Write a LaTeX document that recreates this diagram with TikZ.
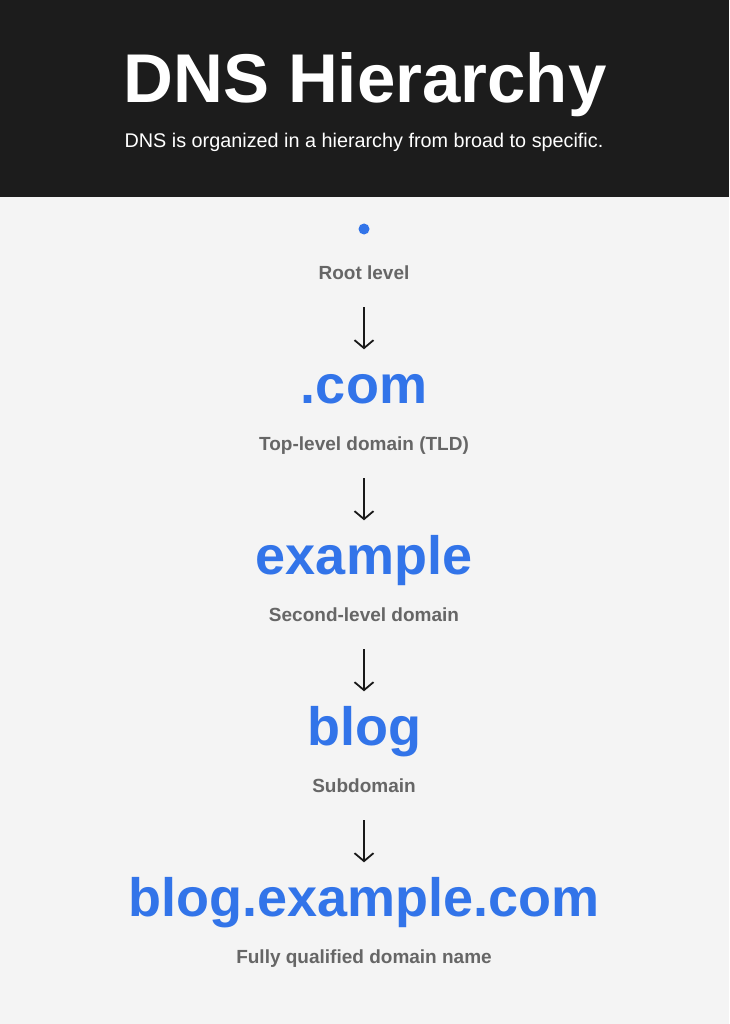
\documentclass[tikz,border=0pt]{standalone}
\usepackage{fontspec}
\setmainfont{Liberation Sans}
\usepackage{tikz}
\usetikzlibrary{arrows.meta}
\definecolor{dnsblue}{RGB}{50,116,233}
\definecolor{headbg}{RGB}{28,28,28}
\definecolor{pagebg}{RGB}{244,244,244}
\definecolor{lblgray}{RGB}{102,102,102}
\tikzstyle{domname} = [text=dnsblue, font=\fontsize{54}{54}\selectfont\bfseries, inner sep=0pt, text height=40pt, text depth=11pt]
\tikzstyle{levellbl} = [text=lblgray, font=\fontsize{19}{19}\selectfont\bfseries, inner sep=0pt, text height=14pt, text depth=4pt]
\tikzstyle{downarrow} = [draw=black!90, line width=1.8pt, -{Straight Barb[length=8pt,width=19pt]}, shorten <=24pt, shorten >=14pt]

\begin{document}
\begin{tikzpicture}[x=1pt, y=-1pt]
   \useasboundingbox (0,0) rectangle (729,1024);
   \fill[pagebg] (0,0) rectangle (729,1024);
   \fill[headbg] (0,0) rectangle (729,197);
   \node[anchor=base, text=white, font=\fontsize{69}{69}\selectfont\bfseries, inner sep=0pt] (title) at (365,103) {DNS Hierarchy};
   \node[anchor=base, text=white, font=\fontsize{19.8}{19.8}\selectfont, inner sep=0pt] (subtitle) at (364,148) {DNS is organized in a hierarchy from broad to specific.};
   \node[circle, fill=dnsblue, minimum size=11pt, inner sep=0pt] (root) at (364,229) {};
   \node[levellbl] (rootlbl) [below of=root, node distance=45pt] {Root level};
   \node[domname] (tld)     [below of=rootlbl, node distance=115pt] {.com};
   \node[levellbl] (tldlbl)  [below of=tld, node distance=56pt] {Top-level domain (TLD)};
   \node[domname] (sld)     [below of=tldlbl, node distance=115pt] {example};
   \node[levellbl] (sldlbl)  [below of=sld, node distance=56pt] {Second-level domain};
   \node[domname] (sub)     [below of=sldlbl, node distance=115pt] {blog};
   \node[levellbl] (sublbl)  [below of=sub, node distance=56pt] {Subdomain};
   \node[domname] (fqdn)    [below of=sublbl, node distance=115pt] {blog.example.com};
   \node[levellbl] (fqdnlbl) [below of=fqdn, node distance=56pt] {Fully qualified domain name};
   \draw[downarrow] (rootlbl) -- (tld);
   \draw[downarrow] (tldlbl) -- (sld);
   \draw[downarrow] (sldlbl) -- (sub);
   \draw[downarrow] (sublbl) -- (fqdn);
\end{tikzpicture}
\end{document}
